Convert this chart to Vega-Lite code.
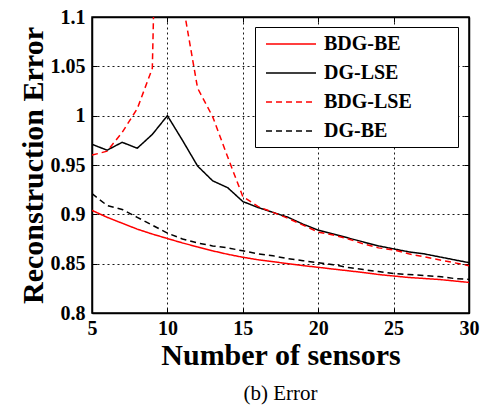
{
  "$schema": "https://vega.github.io/schema/vega-lite/v6.json",
  "width": 377,
  "height": 296,
  "autosize": {"type": "none"},
  "padding": {"left": 92, "top": 17, "right": 12, "bottom": 99},
  "background": "white",
  "title": {"text": "(b) Error", "orient": "bottom", "font": "Liberation Serif", "fontSize": 21, "fontWeight": "normal", "color": "black", "offset": 13},
  "config": {
    "view": {"stroke": "black", "strokeWidth": 1.5},
    "font": "Liberation Serif"
  },
  "data": {"values": [
    {"n":5,"s":"BDG-BE","v":0.904},{"n":6,"s":"BDG-BE","v":0.897},{"n":7,"s":"BDG-BE","v":0.891},{"n":8,"s":"BDG-BE","v":0.885},{"n":9,"s":"BDG-BE","v":0.880},{"n":10,"s":"BDG-BE","v":0.8755},{"n":11,"s":"BDG-BE","v":0.871},{"n":12,"s":"BDG-BE","v":0.867},{"n":13,"s":"BDG-BE","v":0.863},{"n":14,"s":"BDG-BE","v":0.8595},{"n":15,"s":"BDG-BE","v":0.8565},{"n":16,"s":"BDG-BE","v":0.854},{"n":17,"s":"BDG-BE","v":0.852},{"n":18,"s":"BDG-BE","v":0.850},{"n":19,"s":"BDG-BE","v":0.848},{"n":20,"s":"BDG-BE","v":0.8463},{"n":21,"s":"BDG-BE","v":0.8445},{"n":22,"s":"BDG-BE","v":0.8428},{"n":23,"s":"BDG-BE","v":0.841},{"n":24,"s":"BDG-BE","v":0.839},{"n":25,"s":"BDG-BE","v":0.8375},{"n":26,"s":"BDG-BE","v":0.836},{"n":27,"s":"BDG-BE","v":0.835},{"n":28,"s":"BDG-BE","v":0.834},{"n":29,"s":"BDG-BE","v":0.8325},{"n":30,"s":"BDG-BE","v":0.831},

    {"n":5,"s":"DG-LSE","v":0.971},{"n":6,"s":"DG-LSE","v":0.965},{"n":7,"s":"DG-LSE","v":0.973},{"n":8,"s":"DG-LSE","v":0.967},{"n":9,"s":"DG-LSE","v":0.981},{"n":10,"s":"DG-LSE","v":1.0},{"n":11,"s":"DG-LSE","v":0.975},{"n":12,"s":"DG-LSE","v":0.949},{"n":13,"s":"DG-LSE","v":0.934},{"n":14,"s":"DG-LSE","v":0.927},{"n":15,"s":"DG-LSE","v":0.913},{"n":16,"s":"DG-LSE","v":0.907},{"n":17,"s":"DG-LSE","v":0.902},{"n":18,"s":"DG-LSE","v":0.897},{"n":19,"s":"DG-LSE","v":0.890},{"n":20,"s":"DG-LSE","v":0.884},{"n":21,"s":"DG-LSE","v":0.880},{"n":22,"s":"DG-LSE","v":0.876},{"n":23,"s":"DG-LSE","v":0.872},{"n":24,"s":"DG-LSE","v":0.868},{"n":25,"s":"DG-LSE","v":0.865},{"n":26,"s":"DG-LSE","v":0.862},{"n":27,"s":"DG-LSE","v":0.860},{"n":28,"s":"DG-LSE","v":0.857},{"n":29,"s":"DG-LSE","v":0.854},{"n":30,"s":"DG-LSE","v":0.851},

    {"n":5,"s":"BDG-LSE","v":0.960},{"n":6,"s":"BDG-LSE","v":0.964},{"n":7,"s":"BDG-LSE","v":0.983},{"n":8,"s":"BDG-LSE","v":1.007},{"n":9,"s":"BDG-LSE","v":1.048},{"n":10,"s":"BDG-LSE","v":1.72},{"n":11,"s":"BDG-LSE","v":1.116},{"n":12,"s":"BDG-LSE","v":1.028},{"n":13,"s":"BDG-LSE","v":0.999},{"n":14,"s":"BDG-LSE","v":0.958},{"n":15,"s":"BDG-LSE","v":0.918},{"n":16,"s":"BDG-LSE","v":0.908},{"n":17,"s":"BDG-LSE","v":0.902},{"n":18,"s":"BDG-LSE","v":0.896},{"n":19,"s":"BDG-LSE","v":0.889},{"n":20,"s":"BDG-LSE","v":0.882},{"n":21,"s":"BDG-LSE","v":0.879},{"n":22,"s":"BDG-LSE","v":0.875},{"n":23,"s":"BDG-LSE","v":0.870},{"n":24,"s":"BDG-LSE","v":0.866},{"n":25,"s":"BDG-LSE","v":0.864},{"n":26,"s":"BDG-LSE","v":0.860},{"n":27,"s":"BDG-LSE","v":0.857},{"n":28,"s":"BDG-LSE","v":0.854},{"n":29,"s":"BDG-LSE","v":0.851},{"n":30,"s":"BDG-LSE","v":0.848},

    {"n":5,"s":"DG-BE","v":0.921},{"n":6,"s":"DG-BE","v":0.909},{"n":7,"s":"DG-BE","v":0.905},{"n":8,"s":"DG-BE","v":0.897},{"n":9,"s":"DG-BE","v":0.889},{"n":10,"s":"DG-BE","v":0.881},{"n":11,"s":"DG-BE","v":0.875},{"n":12,"s":"DG-BE","v":0.871},{"n":13,"s":"DG-BE","v":0.868},{"n":14,"s":"DG-BE","v":0.866},{"n":15,"s":"DG-BE","v":0.863},{"n":16,"s":"DG-BE","v":0.860},{"n":17,"s":"DG-BE","v":0.858},{"n":18,"s":"DG-BE","v":0.855},{"n":19,"s":"DG-BE","v":0.853},{"n":20,"s":"DG-BE","v":0.851},{"n":21,"s":"DG-BE","v":0.849},{"n":22,"s":"DG-BE","v":0.846},{"n":23,"s":"DG-BE","v":0.844},{"n":24,"s":"DG-BE","v":0.842},{"n":25,"s":"DG-BE","v":0.840},{"n":26,"s":"DG-BE","v":0.839},{"n":27,"s":"DG-BE","v":0.838},{"n":28,"s":"DG-BE","v":0.837},{"n":29,"s":"DG-BE","v":0.835},{"n":30,"s":"DG-BE","v":0.834}
  ]},
  "layer": [
    {
      "mark": {"type": "line", "clip": true, "strokeWidth": 1.5},
      "encoding": {
        "x": {"field": "n", "type": "quantitative",
          "scale": {"domain": [5, 30], "nice": false, "zero": false},
          "axis": {"title": "Number of sensors", "values": [5,10,15,20,25,30],
            "titleFont": "Liberation Serif", "titleFontSize": 30, "titleFontWeight": "bold", "titleColor": "black", "titlePadding": 2,
            "labelFont": "Liberation Serif", "labelFontSize": 20, "labelFontWeight": "bold", "labelColor": "black", "labelPadding": 10,
            "domainColor": "black", "domainWidth": 1.5, "tickColor": "black", "tickSize": -5, "tickWidth": 1,
            "grid": true, "gridColor": "black", "gridDash": [2, 3], "gridWidth": 1, "gridOpacity": 0.9, "labelFlush": false}},
        "y": {"field": "v", "type": "quantitative",
          "scale": {"domain": [0.8, 1.1], "nice": false, "zero": false},
          "axis": {"title": "Reconstruction Error", "values": [0.8,0.85,0.9,0.95,1,1.05,1.1], "format": "~g",
            "titleFont": "Liberation Serif", "titleFontSize": 30, "titleFontWeight": "bold", "titleColor": "black", "titlePadding": 2,
            "labelFont": "Liberation Serif", "labelFontSize": 20, "labelFontWeight": "bold", "labelColor": "black", "labelPadding": 12,
            "domainColor": "black", "domainWidth": 1.5, "tickColor": "black", "tickSize": -5, "tickWidth": 1,
            "grid": true, "gridColor": "black", "gridDash": [2, 3], "gridWidth": 1, "gridOpacity": 0.9, "labelFlush": false}},
        "color": {"field": "s", "type": "nominal",
          "scale": {"domain": ["BDG-BE", "DG-LSE", "BDG-LSE", "DG-BE"], "range": ["#ff0000", "#000000", "#ff0000", "#000000"]},
          "legend": {"title": null, "orient": "none", "legendX": 163, "legendY": 10,
            "direction": "vertical", "symbolType": "M-1,0H4", "symbolSize": 400, "symbolStrokeWidth": 1.5,
            "labelFont": "Liberation Serif", "labelFontSize": 20, "labelFontWeight": "bold", "labelColor": "black",
            "labelExpr": "datum.label + '\u00a0\u00a0\u00a0\u00a0\u00a0\u00a0\u00a0\u00a0\u200b'",
            "strokeColor": "black", "fillColor": "white", "padding": 6, "rowPadding": 8, "labelOffset": 37, "symbolOffset": 4,
            "labelLimit": 300, "cornerRadius": 0}},
        "strokeDash": {"field": "s", "type": "nominal",
          "scale": {"domain": ["BDG-BE", "DG-LSE", "BDG-LSE", "DG-BE"], "range": [[1, 0], [1, 0], [6, 4], [6, 4]]}},
        "order": {"field": "n", "type": "quantitative"}
      }
    },
    {
      "mark": {"type": "point", "opacity": 0, "clip": true},
      "encoding": {
        "x": {"field": "n", "type": "quantitative",
          "axis": {"orient": "top", "title": null, "values": [5,10,15,20,25,30], "labels": false, "grid": false,
            "domainColor": "black", "domainWidth": 1.5, "tickColor": "black", "tickSize": -5, "tickWidth": 1}},
        "y": {"field": "v", "type": "quantitative",
          "axis": {"orient": "right", "title": null, "values": [0.8,0.85,0.9,0.95,1,1.05,1.1], "labels": false, "grid": false,
            "domainColor": "black", "domainWidth": 1.5, "tickColor": "black", "tickSize": -5, "tickWidth": 1}}
      }
    }
  ],
  "resolve": {"axis": {"x": "independent", "y": "independent"}}
}
